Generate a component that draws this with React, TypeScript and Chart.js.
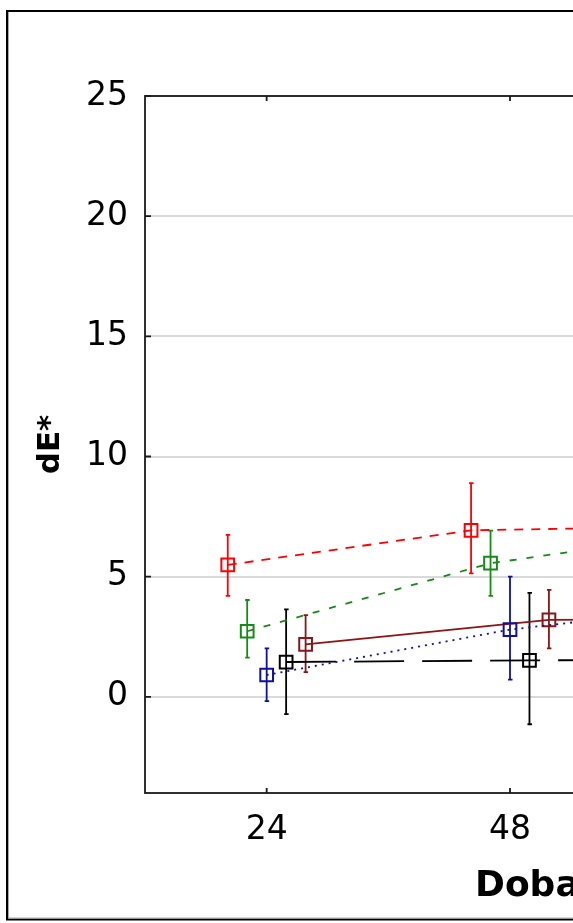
import React, { useEffect, useRef } from 'react';
import { Chart, registerables } from 'chart.js';

Chart.register(...registerables);

// ---- data ----
const categories = ['24', '48', '72'];
const yTickValues = [0, 5, 10, 15, 20, 25];
const groupOffsets = [-0.16, -0.08, 0, 0.08, 0.16];

const seriesNames = ['Skupina 1', 'Skupina 2', 'Skupina 3', 'Skupina 4', 'Skupina 5'];

const redMean = [5.49, 6.93, 7.1];
const redLow = [4.2, 5.14, 5.5];
const redHigh = [6.74, 8.89, 8.7];

const greenMean = [2.73, 5.56, 7.0];
const greenLow = [1.63, 4.2, 5.6];
const greenHigh = [4.03, 6.92, 8.4];

const blueMean = [0.91, 2.8, 3.95];
const blueLow = [-0.18, 0.72, 2.2];
const blueHigh = [2.02, 5.0, 5.7];

const blackMean = [1.45, 1.52, 1.55];
const blackLow = [-0.72, -1.14, -0.9];
const blackHigh = [3.64, 4.33, 4.0];

const darkRedMean = [2.18, 3.2, 3.25];
const darkRedLow = [1.03, 2.02, 2.1];
const darkRedHigh = [3.4, 4.45, 4.4];

const yTitle = 'dE*';
const xTitle = 'Doba (h)';

// ---- helpers ----
function buildPoints(mean: number[], low: number[], high: number[], offset: number) {
  return mean.map((m, i) => ({ x: i + offset, y: m, lo: low[i], hi: high[i] }));
}

const overlayPlugin = {
  id: 'overlay',
  beforeDatasetsDraw(chart: any) {
    const ctx = chart.ctx;
    const ys = chart.scales.y;
    chart.data.datasets.forEach((ds: any, di: number) => {
      const meta = chart.getDatasetMeta(di);
      ctx.save();
      ctx.strokeStyle = ds.borderColor;
      ctx.lineWidth = 1.8;
      ctx.setLineDash([]);
      meta.data.forEach((pt: any, i: number) => {
        const raw = ds.data[i];
        const x = pt.x;
        const y1 = ys.getPixelForValue(raw.lo);
        const y2 = ys.getPixelForValue(raw.hi);
        ctx.beginPath();
        ctx.moveTo(x, y1);
        ctx.lineTo(x, y2);
        ctx.moveTo(x - 2, y1);
        ctx.lineTo(x + 2.5, y1);
        ctx.moveTo(x - 2, y2);
        ctx.lineTo(x + 2.5, y2);
        ctx.stroke();
      });
      ctx.restore();
    });
  },
  afterDraw(chart: any) {
    const ctx = chart.ctx;
    const a = chart.chartArea;
    const xs = chart.scales.x;
    const ys = chart.scales.y;
    ctx.save();
    // outer frame
    ctx.strokeStyle = '#000';
    ctx.lineWidth = 2;
    ctx.strokeRect(7, 11, 2000, 908.5);
    ctx.strokeStyle = '#aaa';
    ctx.lineWidth = 1;
    ctx.beginPath();
    ctx.moveTo(8.5, 12);
    ctx.lineTo(8.5, 918);
    ctx.lineTo(2000, 918);
    ctx.stroke();
    // plot box
    ctx.strokeStyle = '#1a1a1a';
    ctx.lineWidth = 1.8;
    ctx.strokeRect(a.left, a.top, a.right - a.left, a.bottom - a.top);
    // inward ticks
    ctx.beginPath();
    ys.ticks.forEach((t: any) => {
      const py = ys.getPixelForValue(t.value);
      ctx.moveTo(a.left, py);
      ctx.lineTo(a.left + 6, py);
    });
    xs.ticks.forEach((t: any) => {
      const px = xs.getPixelForValue(t.value);
      ctx.moveTo(px, a.top);
      ctx.lineTo(px, a.top + 5);
      ctx.moveTo(px, a.bottom);
      ctx.lineTo(px, a.bottom - 5);
    });
    ctx.stroke();
    // titles
    ctx.fillStyle = '#000';
    ctx.font = 'bold 36px "DejaVu Sans"';
    ctx.textAlign = 'left';
    ctx.textBaseline = 'alphabetic';
    ctx.fillText(xTitle, 475, 896);
    ctx.translate(59, (a.top + a.bottom) / 2);
    ctx.rotate(-Math.PI / 2);
    ctx.font = 'bold 31px "DejaVu Sans"';
    ctx.textAlign = 'center';
    ctx.fillText(yTitle, 0, 0);
    ctx.restore();
  },
};

export default function App() {
  const canvasRef = useRef<HTMLCanvasElement | null>(null);

  useEffect(() => {
    const canvas = canvasRef.current;
    if (!canvas) return;
    const mk = (
      label: string,
      color: string,
      dash: number[],
      mean: number[],
      low: number[],
      high: number[],
      offset: number
    ) => ({
      label,
      data: buildPoints(mean, low, high, offset),
      borderColor: color,
      borderWidth: 1.8,
      borderDash: dash,
      pointStyle: 'rect',
      pointRadius: 9,
      pointBorderWidth: 2,
      pointBorderColor: color,
      pointBackgroundColor: 'rgba(0,0,0,0)',
      fill: false,
      tension: 0,
    });

    const chart = new Chart(canvas, {
      type: 'line',
      data: {
        datasets: [
          mk(seriesNames[0], '#ff0000', [9, 8], redMean, redLow, redHigh, groupOffsets[0]),
          mk(seriesNames[1], '#168a16', [7, 10], greenMean, greenLow, greenHigh, groupOffsets[1]),
          mk(seriesNames[2], '#1010a0', [2, 5], blueMean, blueLow, blueHigh, groupOffsets[2]),
          mk(seriesNames[3], '#000000', [50, 18], blackMean, blackLow, blackHigh, groupOffsets[3]),
          mk(seriesNames[4], '#8b1414', [], darkRedMean, darkRedLow, darkRedHigh, groupOffsets[4]),
        ] as any,
      },
      options: {
        animation: false,
        responsive: false,
        maintainAspectRatio: false,
        devicePixelRatio: 1,
        layout: { padding: { top: 96, bottom: 0, left: 0, right: 125 } },
        plugins: { legend: { display: false }, tooltip: { enabled: false }, title: { display: false } },
        scales: {
          x: {
            type: 'linear',
            min: -0.5,
            max: 2.5,
            afterBuildTicks: (scale: any) => {
              scale.ticks = categories.map((_, i) => ({ value: i }));
            },
            afterFit: (scale: any) => {
              scale.height = 130;
            },
            grid: { display: false, drawTicks: false },
            border: { display: false },
            ticks: {
              autoSkip: false,
              maxRotation: 0,
              padding: 18,
              color: '#000',
              font: { family: 'DejaVu Sans', size: 33 },
              callback: (v: any) => categories[Math.round(Number(v))] ?? '',
            },
          },
          y: {
            type: 'linear',
            min: -4,
            max: 25,
            afterBuildTicks: (scale: any) => {
              scale.ticks = yTickValues.map((v) => ({ value: v }));
            },
            afterFit: (scale: any) => {
              scale.width = 145;
            },
            grid: { color: '#d9d9d9', lineWidth: 2, drawTicks: false },
            border: { display: false },
            ticks: {
              padding: 17,
              color: '#000',
              font: { family: 'DejaVu Sans', size: 33 },
            },
          },
        },
      } as any,
      plugins: [overlayPlugin],
    });
    return () => chart.destroy();
  }, []);

  return (
    <div
      style={{
        position: 'absolute',
        left: 0,
        top: 0,
        width: 573,
        height: 923,
        overflow: 'hidden',
        background: '#fff',
      }}
    >
      <canvas ref={canvasRef} width={1000} height={923} style={{ display: 'block' }} />
    </div>
  );
}
